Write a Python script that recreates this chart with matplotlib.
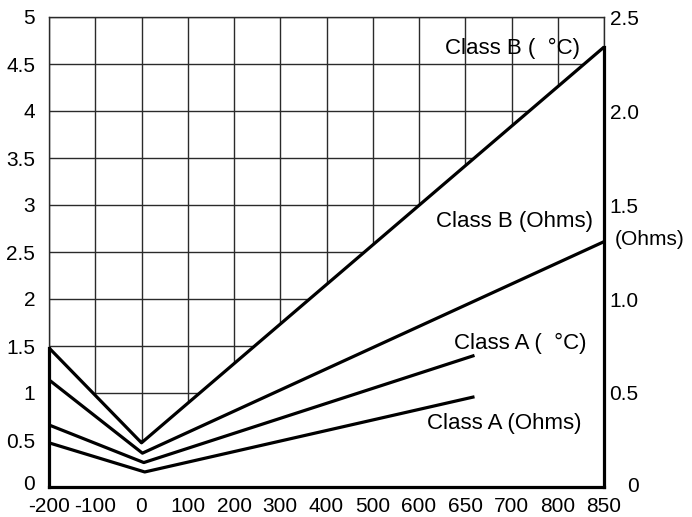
import numpy as np
import matplotlib
matplotlib.use("Agg")
import matplotlib.pyplot as plt
from matplotlib.transforms import ScaledTranslation

plt.rcParams['font.family'] = ['Liberation Sans', 'DejaVu Sans']

# x tick labels (non-uniform temperature axis, equally spaced labels)
x_ticks = [-200, -100, 0, 100, 200, 300, 400, 500, 600, 650, 700, 800, 850]
x_tick_labels = [str(t) for t in x_ticks]

left_ticks = [0, 0.5, 1, 1.5, 2, 2.5, 3, 3.5, 4, 4.5, 5]
left_tick_labels = ["0", "0.5", "1", "1.5", "2", "2.5", "3", "3.5", "4", "4.5", "5"]
right_ticks = [0, 0.5, 1.0, 1.5, 2.0, 2.5]
right_tick_labels = ["0", "0.5", "1.0", "1.5", "2.0", "2.5"]

# series (values in left-axis units)
classB_C_x = [-200, 0, 850]
classB_C_y = [1.48, 0.47, 4.68]
classB_O_x = [-200, 2, 850]
classB_O_y = [1.14, 0.36, 2.61]
classA_C_x = [-200, 5, 660]
classA_C_y = [0.66, 0.26, 1.40]
classA_O_x = [-200, 7, 660]
classA_O_y = [0.47, 0.16, 0.96]

idx = np.arange(len(x_ticks), dtype=float)
def fwd(t):
    return np.interp(t, x_ticks, idx)
def inv(p):
    return np.interp(p, idx, x_ticks)

fig = plt.figure(figsize=(6.92, 5.17), dpi=100)
ax = fig.add_axes([49/692, 30/517, 555/692, 470/517])
ax.set_xscale('function', functions=(fwd, inv))
ax.set_xlim(-200, 850)
ax.set_ylim(0, 5)

tfs = 15
ax.set_xticks(x_ticks)
ax.set_xticklabels(x_tick_labels, fontsize=tfs)
ax.set_yticks(left_ticks)
ax.set_yticklabels(left_tick_labels, fontsize=tfs)
ax.tick_params(axis='x', length=0, pad=7)
ax.tick_params(axis='y', length=0, pad=10)
ax.set_axisbelow(True)
ax.grid(True, color='#2a2a2a', linewidth=1.0)

# nudge left "0" up a little, as in the reference
l0 = ax.get_yticklabels()[0]
l0.set_transform(l0.get_transform() + ScaledTranslation(0, 4/100, fig.dpi_scale_trans))

for s in ['top', 'left', 'right']:
    ax.spines[s].set_color('#2a2a2a')
    ax.spines[s].set_linewidth(1.0)
ax.spines['bottom'].set_linewidth(2.3)
ax.spines['bottom'].set_color('black')

# white mask below Class B (°C)
ax.fill_between(classB_C_x, classB_C_y, 0, color='white', zorder=1, linewidth=0)

lw = 2.3
for xs, ys in [(classB_C_x, classB_C_y), (classB_O_x, classB_O_y),
               (classA_C_x, classA_C_y), (classA_O_x, classA_O_y)]:
    ax.plot(xs, ys, color='black', lw=lw, zorder=3, solid_capstyle='butt')

# thick edges
ax.plot([x_ticks[0], x_ticks[0]], [0, classB_C_y[0]], color='black', lw=lw,
        zorder=4, clip_on=False, solid_capstyle='projecting')
ax.plot([x_ticks[-1], x_ticks[-1]], [0, classB_C_y[-1]], color='black', lw=lw,
        zorder=4, clip_on=False, solid_capstyle='projecting')

# right axis
ax2 = ax.twinx()
ax2.set_ylim(0, 2.5)
ax2.set_yticks(right_ticks)
ax2.set_yticklabels(right_tick_labels, fontsize=tfs)
ax2.tick_params(axis='y', length=0, pad=4)
for s in ax2.spines.values():
    s.set_visible(False)
lbl0 = ax2.get_yticklabels()[0]
lbl0.set_transform(lbl0.get_transform() + ScaledTranslation(18/100, 3/100, fig.dpi_scale_trans))

fs = 16
ax.text(0.957, 0.934, "Class B (  \u00b0C)", transform=ax.transAxes, ha='right', va='center', fontsize=fs, zorder=5)
ax.text(0.980, 0.564, "Class B (Ohms)", transform=ax.transAxes, ha='right', va='center', fontsize=fs, zorder=5)
ax.text(0.969, 0.306, "Class A (  \u00b0C)", transform=ax.transAxes, ha='right', va='center', fontsize=fs, zorder=5)
ax.text(0.960, 0.136, "Class A (Ohms)", transform=ax.transAxes, ha='right', va='center', fontsize=fs, zorder=5)
ax.text(1.020, 0.526, "(Ohms)", transform=ax.transAxes, ha='left', va='center', fontsize=tfs, zorder=5)

fig.savefig("out.png", dpi=100)
